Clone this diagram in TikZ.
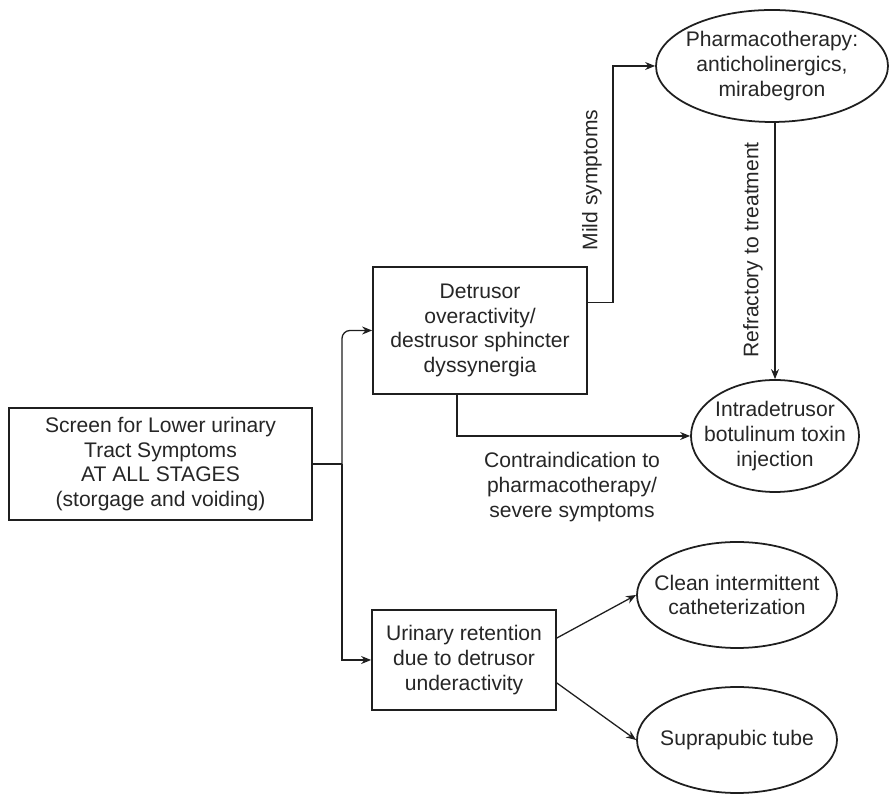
\documentclass[tikz,border=0pt]{standalone}
\usepackage{fontspec}
\setmainfont{Liberation Sans}
\usetikzlibrary{shapes.geometric,arrows.meta}

\begin{document}
\begin{tikzpicture}[
  every node/.style={font=\fontsize{18}{21}\selectfont,align=center,text=ctext},
  box/.style={draw=cline,fill=cfill,line width=1.5pt,shape=rectangle},
  oval/.style={draw=cline,fill=cfill,line width=1.5pt,shape=ellipse,inner xsep=-0.6cm,inner ysep=0pt},
  link/.style={draw=cline,line width=1.1pt},
  arr/.style={link,-{Stealth[length=0.3cm,width=0.24cm]}}]
\definecolor{cline}{rgb}{0.12,0.12,0.12}
\definecolor{ctext}{rgb}{0.15,0.15,0.15}
\definecolor{cfill}{rgb}{1.0,1.0,1.0}
%
\useasboundingbox (0,0) rectangle (26.67,23.85);
%
\node[box,minimum width=9.09cm,minimum height=3.36cm] (screen) at (4.815,9.93) {Screen for Lower urinary\\Tract Symptoms\\AT ALL STAGES\\(storgage and voiding)};
\node[box,minimum width=6.42cm,minimum height=3.81cm] (dov) at (14.4,13.935) {Detrusor\\overactivity/\\destrusor sphincter\\dyssynergia};
\node[box,minimum width=5.52cm,minimum height=3.0cm] (ret) at (13.92,4.05) {Urinary retention\\due to detrusor\\underactivity};
\node[oval,minimum width=6.96cm,minimum height=3.36cm] (pharm) at (23.16,21.87) {Pharmacotherapy:\\anticholinergics,\\mirabegron};
\node[oval,minimum width=5.04cm,minimum height=3.36cm] (botox) at (23.25,10.77) {Intradetrusor\\botulinum toxin\\injection};
\node[oval,minimum width=6.0cm,minimum height=3.18cm] (cic) at (22.11,6.0) {Clean intermittent\\catheterization};
\node[oval,minimum width=6.0cm,minimum height=3.18cm] (spt) at (22.11,1.65) {Suprapubic tube};
%
\node[rotate=90] (mild) at (17.76,18.45) {Mild symptoms};
\node[rotate=90] (refr) at (22.59,16.35) {Refractory to treatment};
\node (contra) at (17.16,9.24) {Contraindication to\\pharmacotherapy/\\severe symptoms};
%
\coordinate (fork) at (10.26,9.93);
\draw[link] (screen.east) -- (fork);
\draw[arr,rounded corners=0.24cm] (fork) |- (dov.west);
\draw[arr] (fork) |- (ret.west);
\draw[arr] ([yshift=0.85cm]dov.east) -| ([xshift=-1.26cm]pharm.west) -- (pharm.west);
\draw[arr] (pharm.south -| botox.north) -- (botox.north);
\draw[arr] ([xshift=-0.69cm]dov.south) |- (botox.west);
\draw[arr] ([yshift=0.66cm]ret.east) -- (cic.west);
\draw[arr] ([yshift=-0.69cm]ret.east) -- (spt.west);
%
\end{tikzpicture}
\end{document}
